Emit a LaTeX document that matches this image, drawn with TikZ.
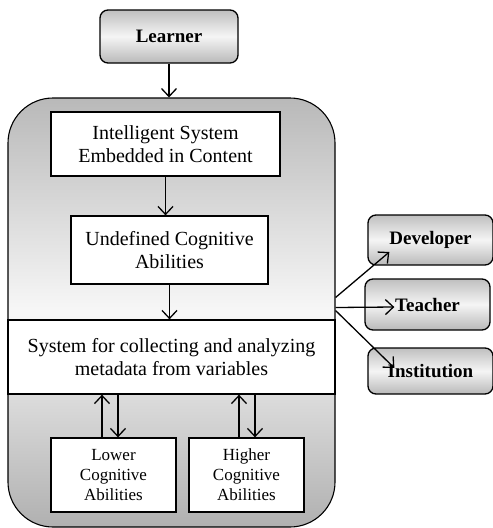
\documentclass[tikz,border=0pt]{standalone}
\usepackage{fontspec}
\setmainfont{Liberation Serif}
\usetikzlibrary{positioning,arrows.meta}

\begin{document}
\begin{tikzpicture}[x=1pt, y=-1pt, line width=1.3pt,
  >={Straight Barb[length=8pt,width=15pt,line width=1.3pt]},
  actor/.style = {draw, rounded corners=8pt, top color=gray!50, bottom color=gray!55, middle color=gray!8, font=\fontsize{19}{21}\selectfont\bfseries, minimum width=125pt, inner sep=0pt},
  inner/.style = {draw, fill=white, align=center, font=\fontsize{20}{23}\selectfont, inner sep=0pt},
  small/.style = {draw, fill=white, align=center, font=\fontsize{17}{20}\selectfont, inner sep=0pt, minimum height=74pt}]
\useasboundingbox (0,0) rectangle (493,528);
\node[draw, line width=1.1pt, rounded corners=45pt, top color=gray!55, bottom color=gray!62, middle color=gray!6, minimum width=327pt, minimum height=429pt, inner sep=0pt] (sys) at (171.5,312.5) {};
\node[actor, minimum width=138pt, minimum height=53pt] (learner) at (169,36.5) {Learner};
\node[inner, minimum width=229pt, minimum height=64pt] (intel) at (165.5,144) {Intelligent System\\Embedded in Content};
\node[inner, minimum width=197pt, minimum height=68pt] (undef) at (169.5,250) {Undefined Cognitive\\Abilities};
\node[inner, minimum width=327pt, minimum height=74pt] (meta) at (171.5,357) {System for collecting and analyzing\\metadata from variables};
\node[small, minimum width=125pt] (lower) at (113.5,475) {Lower\\Cognitive\\Abilities};
\node[small, minimum width=115pt] (higher) at (246.5,475) {Higher\\Cognitive\\Abilities};
\node[actor, minimum height=50pt] (dev) at (430.5,240) {Developer};
\node[actor, minimum height=51pt] (teach) at (427.5,304.5) {Teacher};
\node[actor, minimum height=46pt] (inst) at (430.5,371) {Institution};
% vertical flow
\draw[->] (learner.south) -- (learner.south |- sys.north);
\draw[->] (intel.south) -- (intel.south |- undef.north);
\draw[->] (undef.south) -- (undef.south |- meta.north);
\coordinate (lu) at ([xshift=-11.5pt]lower.north);
\coordinate (ld) at ([xshift=4.5pt]lower.north);
\coordinate (hu) at ([xshift=-7.5pt]higher.north);
\coordinate (hd) at ([xshift=8.5pt]higher.north);
\draw[->] (lu) -- (lu |- meta.south);
\draw[<-] (ld) -- (ld |- meta.south);
\draw[->] (hu) -- (hu |- meta.south);
\draw[<-] (hd) -- (hd |- meta.south);
% outputs
\draw[->] ([yshift=15pt]sys.east) -- ([xshift=22pt,yshift=-12pt]dev.west);
\draw[->] ([yshift=5pt]sys.east) -- ([xshift=30pt,yshift=-2.5pt]teach.west);
\draw[->] ([yshift=2pt]sys.east) -- ([xshift=27pt,yshift=3pt]inst.west);
\end{tikzpicture}
\end{document}
